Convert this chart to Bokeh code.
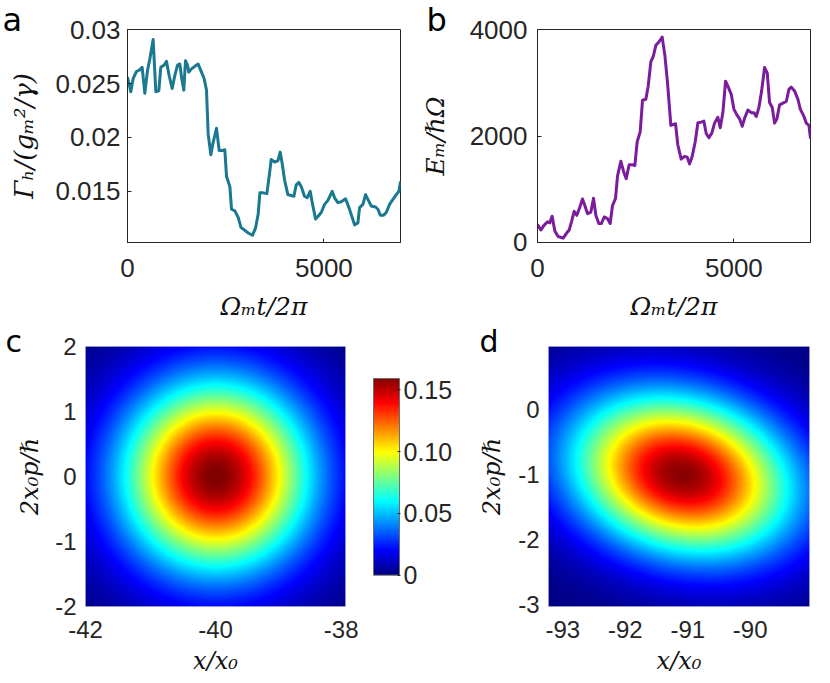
import numpy as np
from bokeh.plotting import figure
from bokeh.layouts import column, row
from bokeh.models import LinearAxis, FixedTicker, Range1d, LinearColorMapper
from bokeh.embed import file_html
from bokeh.resources import INLINE

# ---------------- data ----------------
# panel a: heating rate vs time
a_time = [0, 84, 143, 228, 313, 373, 441, 509, 568, 653, 721, 797, 848, 933, 993, 1060, 1137,
          1205, 1273, 1332, 1375, 1434, 1476, 1527, 1561, 1629, 1714, 1799, 1884, 1952, 2011,
          2054, 2122, 2181, 2266, 2334, 2419, 2478, 2521, 2606, 2648, 2733, 2818, 2886, 2988,
          3072, 3183, 3259, 3327, 3370, 3455, 3548, 3616, 3658, 3743, 3828, 3888, 3938, 3998,
          4083, 4168, 4236, 4295, 4363, 4422, 4507, 4575, 4652, 4703, 4788, 4847, 4932, 5017,
          5102, 5212, 5272, 5356, 5441, 5552, 5637, 5721, 5781, 5866, 5908, 5993, 6061, 6120,
          6205, 6316, 6375, 6435, 6520, 6587, 6672, 6757, 6842, 6910, 6950]
a_gamma = [0.0256, 0.02424, 0.02545, 0.02612, 0.02627, 0.02651, 0.02409, 0.02621, 0.02727,
           0.02909, 0.02424, 0.02433, 0.02651, 0.02672, 0.02706, 0.02575, 0.02454, 0.02575,
           0.02672, 0.02682, 0.0256, 0.02439, 0.02712, 0.02672, 0.02606, 0.02636, 0.0266,
           0.02682, 0.02606, 0.02545, 0.02439, 0.0203, 0.01839, 0.01954, 0.02085, 0.01878,
           0.01878, 0.01885, 0.01636, 0.01545, 0.01333, 0.01318, 0.01257, 0.01166, 0.01136,
           0.01112, 0.01091, 0.01157, 0.01288, 0.01485, 0.01485, 0.01478, 0.01666, 0.01794,
           0.01772, 0.01782, 0.01863, 0.01757, 0.01606, 0.01469, 0.0146, 0.01454, 0.0156,
           0.01582, 0.01545, 0.01454, 0.01439, 0.015, 0.01394, 0.01242, 0.01266, 0.01303,
           0.01378, 0.01415, 0.015, 0.01439, 0.01394, 0.01403, 0.0143, 0.01348, 0.01257,
           0.01188, 0.01206, 0.01348, 0.01378, 0.01469, 0.01424, 0.01363, 0.01354, 0.01333,
           0.01278, 0.01278, 0.01303, 0.01378, 0.01424, 0.01469, 0.015, 0.01591]

# panel b: mechanical energy vs time
b_time = [0, 84, 169, 254, 313, 373, 441, 525, 653, 738, 806, 865, 933, 1001, 1077, 1145, 1205,
          1273, 1358, 1426, 1485, 1561, 1629, 1697, 1782, 1850, 1910, 1986, 2037, 2122, 2190,
          2258, 2334, 2410, 2478, 2538, 2614, 2674, 2758, 2818, 2886, 2945, 3013, 3090, 3174,
          3242, 3310, 3395, 3514, 3573, 3658, 3743, 3811, 3871, 3938, 4015, 4083, 4168, 4236,
          4295, 4363, 4440, 4507, 4592, 4652, 4720, 4788, 4847, 4932, 5000, 5076, 5144, 5212,
          5272, 5356, 5441, 5509, 5569, 5637, 5705, 5781, 5849, 5908, 5976, 6036, 6095, 6163,
          6248, 6333, 6401, 6460, 6545, 6630, 6689, 6774, 6842, 6910, 6950]
b_energy = [338, 233, 326, 387, 369, 492, 215, 111, 80, 172, 233, 387, 584, 510, 663, 817, 694,
            541, 571, 829, 510, 356, 356, 479, 448, 356, 694, 829, 1247, 1524, 1339, 1198, 1462,
            1462, 1444, 1892, 2077, 2672, 2691, 2936, 3397, 3489, 3704, 3766, 3858, 3520, 2998,
            2199, 2230, 1831, 1567, 1616, 1603, 1474, 1616, 1892, 2248, 2261, 2279, 2046, 1966,
            2058, 2242, 2353, 2156, 2445, 3029, 2936, 2783, 2506, 2396, 2322, 2181, 2334, 2488,
            2439, 2439, 2365, 2537, 2844, 3287, 3182, 2629, 2537, 2242, 2322, 2586, 2617, 2648,
            2875, 2918, 2844, 2691, 2506, 2383, 2242, 2199, 1954]

# tick values / labels
t_ticks = [0, 5000]
t_labels = ["0", "5000"]
a_yticks = [0.015, 0.02, 0.025, 0.03]
a_ylabels = ["0.015", "0.02", "0.025", "0.03"]
b_yticks = [0, 2000, 4000]
b_ylabels = ["0", "2000", "4000"]
c_xticks = [-42, -40, -38]
c_yticks = [-2, -1, 0, 1, 2]
d_xticks = [-93, -92, -91, -90]
d_yticks = [-3, -2, -1, 0]
cb_ticks = [0, 0.05, 0.10, 0.15]
cb_labels = ["0", "0.05", "0.10", "0.15"]

# Wigner functions (Gaussian states): centre, covariance, plotted window
c_center = (-40.0, 0.0)
c_cov = [[1.0, 0.0], [0.0, 1.0]]
c_window = (-42.0, -38.0, -2.0, 2.0)
d_center = (-91.1, -1.01)
d_cov = [[1.47, -0.19], [-0.19, 0.72]]
d_window = (-93.23, -89.05, -3.03, 0.97)
w_max = 1.0 / (2.0 * np.pi)

# ---------------- helpers ----------------
INK = "#262626"
TICK_FONT = "Liberation Sans"
LAB_FONT = "DejaVu Serif"


def jet(n=256):
    t = np.linspace(0, 1, n)
    r = np.clip(1.5 - np.abs(4 * t - 3), 0, 1)
    g = np.clip(1.5 - np.abs(4 * t - 2), 0, 1)
    b = np.clip(1.5 - np.abs(4 * t - 1), 0, 1)
    return ["#%02x%02x%02x" % (int(round(255 * R)), int(round(255 * G)), int(round(255 * B)))
            for R, G, B in zip(r, g, b)]


mapper = LinearColorMapper(palette=jet(), low=0, high=w_max)


def wigner(center, cov, window, n=260):
    x = np.linspace(window[0], window[1], n)
    y = np.linspace(window[2], window[3], n)
    X, Y = np.meshgrid(x, y)
    C = np.array(cov)
    Ci = np.linalg.inv(C)
    dx = X - center[0]
    dy = Y - center[1]
    q = Ci[0, 0] * dx * dx + 2 * Ci[0, 1] * dx * dy + Ci[1, 1] * dy * dy
    return np.exp(-0.5 * q) / (2 * np.pi * np.sqrt(np.linalg.det(C)))


def style_axis(ax, ticks, labels, size, standoff, line=True):
    ax.ticker = FixedTicker(ticks=ticks)
    ax.axis_line_color = INK if line else None
    ax.axis_line_width = 1
    ax.major_tick_line_color = INK if line else None
    ax.major_tick_in = 4
    ax.major_tick_out = 0
    ax.minor_tick_line_color = None
    ax.major_label_text_font = TICK_FONT
    ax.major_label_text_font_size = size
    ax.major_label_text_color = INK
    ax.major_label_standoff = standoff
    if labels is not None:
        ax.major_label_overrides = {t: l for t, l in zip(ticks, labels)}


def label_axis(ax, text, size, standoff):
    ax.axis_label = text
    ax.axis_label_text_font = LAB_FONT
    ax.axis_label_text_font_style = "italic"
    ax.axis_label_text_font_size = size
    ax.axis_label_text_color = "#111111"
    ax.axis_label_standoff = standoff


def panel_letter(p, text, offset, size, standoff):
    t = p.title
    t.text = text
    t.align = "left"
    t.vertical_align = "bottom"
    t.offset = offset
    t.standoff = standoff
    t.text_font = "DejaVu Sans"
    t.text_font_style = "normal"
    t.text_font_size = size
    t.text_color = "#000000"


def line_panel(xs, ys, yr, yticks, ylabels, color, ylabel, ylab_size, tag, width, left, right,
               y_standoff, ylab_standoff, tag_offset):
    p = figure(width=width, height=323, x_range=Range1d(0, 6950), y_range=Range1d(*yr),
               output_backend="svg", toolbar_location=None,
               min_border_left=left, min_border_right=right, min_border_top=29,
               min_border_bottom=77)
    p.grid.visible = False
    p.outline_line_color = INK
    p.outline_line_width = 1
    p.background_fill_color = "white"
    p.border_fill_color = "white"
    p.line(xs, ys, line_color=color, line_width=3, line_join="round")
    style_axis(p.xaxis[0], t_ticks, t_labels, "26px", 16)
    label_axis(p.xaxis[0], "Ωₘt/2π", "25px", 12)
    style_axis(p.yaxis[0], yticks, ylabels, "26px", y_standoff)
    label_axis(p.yaxis[0], ylabel, ylab_size, ylab_standoff)
    panel_letter(p, tag, tag_offset, "32px", -19)
    return p


def heat_panel(Z, window, xticks, yticks, tag, width, left, right, ylab_standoff, tag_offset):
    x0, x1, y0, y1 = window
    eps = 1e-6
    p = figure(width=width, height=359, x_range=Range1d(x0 - eps, x1 + eps),
               y_range=Range1d(y0 - eps, y1 + eps),
               output_backend="svg", toolbar_location=None,
               min_border_left=left, min_border_right=right, min_border_top=23,
               min_border_bottom=76)
    p.grid.visible = False
    p.outline_line_color = "#c8c8d8"
    p.background_fill_color = "white"
    p.border_fill_color = "white"
    p.image(image=[Z], x=x0, y=y0, dw=x1 - x0, dh=y1 - y0, color_mapper=mapper)
    style_axis(p.xaxis[0], xticks, [str(v) for v in xticks], "24px", 14, line=False)
    label_axis(p.xaxis[0], "x/x₀", "24px", 6)
    style_axis(p.yaxis[0], yticks, [str(v) for v in yticks], "24px", 9, line=False)
    label_axis(p.yaxis[0], "2x₀p/ℏ", "24px", ylab_standoff)
    panel_letter(p, tag, tag_offset, "30px", -24)
    return p


# ---------------- panels ----------------
pa = line_panel(a_time, a_gamma, (0.01024, 0.03002), a_yticks, a_ylabels, "#1a7891",
                "Γₕ/(gₘ²/γ)", "26px", "a", 415, 127, 15, 7, 13, -125)
pb = line_panel(b_time, b_energy, (-1, 4001), b_yticks, b_ylabels, "#7a1c9b",
                "Eₘ/ℏΩ", "25px", "b", 413, 122, 18, 10, 17, -111)

pc = heat_panel(wigner(c_center, c_cov, c_window), c_window, c_xticks, c_yticks, "c",
                358, 85, 13, 8, -80)
pd = heat_panel(wigner(d_center, d_cov, d_window), d_window, d_xticks, d_yticks, "d",
                353, 73, 19, 9, -69)

# colour bar: frame shares the heat maps' vertical extent, bar sits inside it
frame_h = 260
bar_top_gap = 32.0     # px between frame top and bar top
bar_bottom_gap = 31.3  # px between bar bottom and frame bottom
px_val = w_max / (frame_h - bar_top_gap - bar_bottom_gap)
cb = figure(width=117, height=359, x_range=Range1d(-1 / 26, 1 + 1 / 26),
            y_range=Range1d(-bar_bottom_gap * px_val, w_max + bar_top_gap * px_val),
            x_axis_type=None, y_axis_type=None, output_backend="svg", toolbar_location=None,
            min_border_left=14, min_border_right=75, min_border_top=23, min_border_bottom=76)
cb.grid.visible = False
cb.outline_line_color = None
cb.background_fill_color = "white"
cb.border_fill_color = "white"
grad = np.linspace(0, w_max, 256).reshape(256, 1)
cb.image(image=[grad], x=0, y=0, dw=1, dh=w_max, color_mapper=mapper)
cb.quad(left=[0], right=[1], bottom=[0], top=[w_max], fill_color=None,
        line_color="#6e6e6e", line_width=1)
cb_ax = LinearAxis()
style_axis(cb_ax, cb_ticks, cb_labels, "25px", 3)
cb_ax.axis_line_color = None
cb_ax.major_tick_in = 3
cb.add_layout(cb_ax, "right")

layout = column(row(pa, pb), row(pc, cb, pd))

open("out.html", "w").write(file_html(layout, INLINE))
